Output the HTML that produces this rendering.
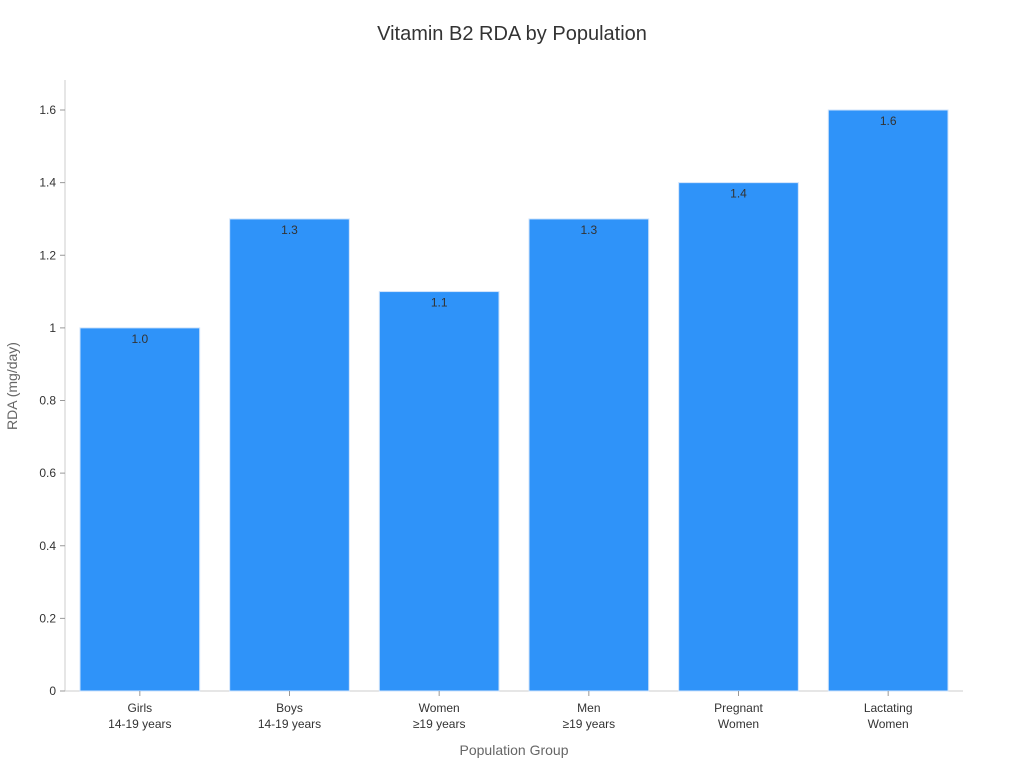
<!DOCTYPE html>
<html><head><meta charset="utf-8"><style>
body{margin:0;background:#fff;font-family:"Liberation Sans","DejaVu Sans",sans-serif;}
</style></head><body>
<svg id="chart" width="1024" height="768" xmlns="http://www.w3.org/2000/svg">
<text x="512" y="40" text-anchor="middle" font-size="20" fill="#333">Vitamin B2 RDA by Population</text>
<g id="grid"></g>
<text transform="translate(17,386) rotate(-90)" text-anchor="middle" font-size="14" fill="#666">RDA (mg/day)</text>
<text x="514" y="755" text-anchor="middle" font-size="14" fill="#666">Population Group</text>
</svg>
<script>
const categories = [["Girls","14-19 years"],["Boys","14-19 years"],["Women","≥19 years"],["Men","≥19 years"],["Pregnant","Women"],["Lactating","Women"]];
const values = [1.0,1.3,1.1,1.3,1.4,1.6];
const valueLabels = ["1.0","1.3","1.1","1.3","1.4","1.6"];
const yTicks = [0,0.2,0.4,0.6,0.8,1,1.2,1.4,1.6];
const yTickLabels = ["0","0.2","0.4","0.6","0.8","1","1.2","1.4","1.6"];
const NS="http://www.w3.org/2000/svg";
const svg=document.getElementById('chart');
const x0=65,x1=963,yBase=691,yTop=110,yMax=1.6;
const y=v=>yBase-(v/yMax)*(yBase-yTop);
const band=(x1-x0)/categories.length;
const pad=15;
function mk(t,a){const e=document.createElementNS(NS,t);for(const k in a)e.setAttribute(k,a[k]);svg.appendChild(e);return e;}
let ax=mk('line',{x1:x0,y1:80,x2:x0,y2:yBase,stroke:'#ccc'});


let bx=mk('line',{x1:x0,y1:yBase,x2:x1,y2:yBase,stroke:'#ccc'});


yTicks.forEach((t,i)=>{
  let tk=mk('line',{x1:x0-5,y1:y(t),x2:x0,y2:y(t),stroke:'#999'});
  
  
  let tl=mk('text',{x:x0-9,y:y(t)+4,'text-anchor':'end','font-size':12,fill:'#333'});
  tl.textContent=yTickLabels[i];
  
  
});
values.forEach((v,i)=>{
  const bxp=x0+i*band+pad, w=band-2*pad;
  let r=mk('rect',{x:bxp,y:y(v),width:w,height:yBase-y(v),fill:'#2f93f9',stroke:'#cfe3fb','stroke-width':1});
  
  
  let vl=mk('text',{x:bxp+w/2,y:y(v)+15,'text-anchor':'middle','font-size':12,fill:'#333'});
  vl.textContent=valueLabels[i];
  
  
  let tk=mk('line',{x1:x0+i*band+band/2,y1:yBase,x2:x0+i*band+band/2,y2:yBase+5,stroke:'#999'});
  
  
  categories[i].forEach((ln,j)=>{
    let cl=mk('text',{x:x0+i*band+band/2,y:712+j*16,'text-anchor':'middle','font-size':12,fill:'#333'});
    cl.textContent=ln;
    
    
  });
});
</script>
</body></html>
